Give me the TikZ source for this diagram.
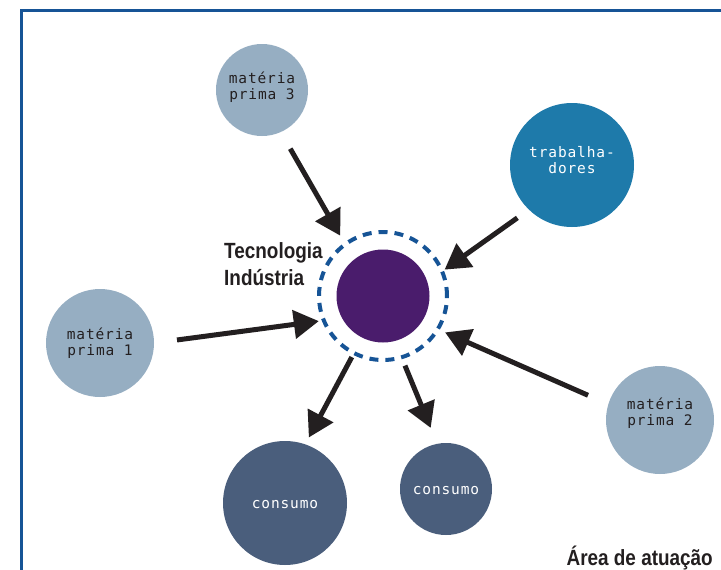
\documentclass[tikz,border=0pt]{standalone}
\usepackage{fontspec}
\setmainfont{Liberation Sans}
\newfontfamily\headfont[FakeStretch=0.86]{Liberation Sans}
\newfontfamily\monofont[LetterSpace=6]{DejaVu Sans Mono}
\usetikzlibrary{arrows.meta}
\definecolor{lightc}{HTML}{96AEC2}
\definecolor{trabc}{HTML}{1E7AAA}
\definecolor{consc}{HTML}{4A5E7C}
\definecolor{corec}{HTML}{4A1C6C}
\definecolor{ringc}{HTML}{165496}
\definecolor{arrc}{HTML}{231F20}
\tikzset{
  blob/.style={circle, inner sep=0pt},
  blobtext/.style={inner sep=0pt, align=center,
    font=\monofont\fontsize{14.5}{16.5}\selectfont},
  lightblob/.style={blob, fill=lightc},
  darkblob/.style={blob},
  lt/.style={blobtext, text=arrc},
  dt/.style={blobtext, text=white},
  arr/.style={draw=arrc, line width=5pt, -{Triangle[length=25pt,width=28pt]}},
  headtext/.style={inner sep=0pt, text=arrc, font=\headfont\bfseries\fontsize{22}{26}\selectfont},
}
\begin{document}
\begin{tikzpicture}[x=1pt,y=-1pt]
\useasboundingbox (0,0) rectangle (721,570);
\clip (0,0) rectangle (721,570);
\fill[white] (0,0) rectangle (721,570);
\draw[ringc, line width=3pt] (21.5,10.5) rectangle (760,600);
% circles
\node[lightblob, minimum size=92pt,
  label={[lt, yshift=3pt]center:{matéria\\prima 3}}] (mp3) at (262,90) {};
\node[darkblob, fill=trabc, minimum size=124pt,
  label={[dt, yshift=5pt]center:{trabalha-\\dores}}] (trab) at (572,165) {};
\node[lightblob, minimum size=108pt,
  label={[lt]center:{matéria\\prima 1}}] (mp1) at (100,343) {};
\node[lightblob, minimum size=108pt,
  label={[lt, yshift=7pt]center:{matéria\\prima 2}}] (mp2) at (660,420) {};
\node[darkblob, fill=consc, minimum size=124pt,
  label={[dt, yshift=-2pt]center:consumo}] (cons1) at (285,503) {};
\node[darkblob, fill=consc, minimum size=92pt,
  label={[dt, yshift=-2pt]center:consumo}] (cons2) at (446,489) {};
\node[circle, inner sep=0pt, minimum size=128pt, draw=ringc, line width=4pt,
      dash pattern=on 9pt off 7pt] (ring) at (383,296) {};
\node[circle, inner sep=0pt, minimum size=93pt, fill=corec] (core) at (383,296) {};
% labels
\node[headtext, anchor=base west] (tec1) at (224,258) {Tecnologia};
\node[headtext, anchor=base west] (tec2) at (224,285) {Indústria};
\node[headtext, anchor=base east] (area) at (713,565) {Área de atuação};
% arrows
\draw[arr, shorten <=19pt, shorten >=8pt] (mp3.-66.6) -- (ring.126.6);
\draw[arr, shorten <=14pt, shorten >=1pt] (trab.226.6) -- (ring.23.4);
\draw[arr, shorten <=23pt, shorten >=3pt] (mp1.-0.7) -- (ring.202);
\draw[arr, shorten <=22pt, shorten >=6pt] (mp2.163.2) -- (ring.-31);
\draw[arr, shorten <=2.6pt, shorten >=7.6pt] (ring.-117.7) -- (cons1.71.6);
\draw[arr, shorten <=7pt, shorten >=17pt] (ring.-73.6) -- (cons2.101);
\end{tikzpicture}
\end{document}
